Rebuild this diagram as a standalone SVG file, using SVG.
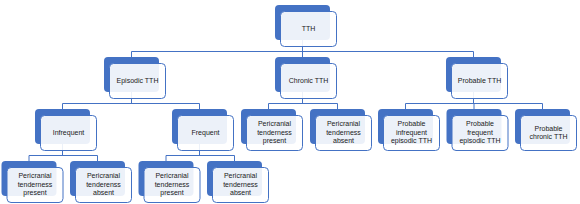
<svg xmlns="http://www.w3.org/2000/svg" width="580" height="204" viewBox="0 0 580 204">
<style>
.bg{fill:#ffffff}
.b{fill:#4472c4}
.w{fill:#ffffff;fill-opacity:0.9;stroke:#4472c4;stroke-width:1}
.c{fill:none;stroke:#4472c4;stroke-width:1}
text{font-family:"Liberation Sans",Arial,sans-serif;font-size:7px;fill:#1a1a1a;text-anchor:middle}
</style>
<rect class="bg" x="0" y="0" width="580" height="204"/>
<g id="connectors">
<path class="c" d="M302.5,40V51.5M131.5,51.5H473.5M131.5,51.5V57M302.5,51.5V57M473.5,51.5V57"/>
<path class="c" d="M131.5,92V103.5M62.5,103.5H199.5M62.5,103.5V109M199.5,103.5V109"/>
<path class="c" d="M302.5,92V103.5M268.5,103.5H337.5M268.5,103.5V109M337.5,103.5V109"/>
<path class="c" d="M473.5,92V103.5M405.5,103.5H542.5M405.5,103.5V109M474,103.5V109M542.5,103.5V109"/>
<path class="c" d="M62.5,144V155.5M29,155.5H97.5M29,155.5V161M97.5,155.5V161"/>
<path class="c" d="M199.5,144V155.5M166,155.5H234.5M166,155.5V161M234.5,155.5V161"/>
</g>
<g id="n-tth"><rect class="b" x="275" y="5" width="55" height="35" rx="4"/><rect class="w" x="280.5" y="11.5" width="56" height="35" rx="4"/><text x="308.5" y="31">TTH</text></g>
<g id="n-episodic"><rect class="b" x="104" y="57" width="55" height="35" rx="4"/><rect class="w" x="109.5" y="63.5" width="56" height="35" rx="4"/><text x="137.5" y="83">Episodic TTH</text></g>
<g id="n-chronic"><rect class="b" x="275" y="57" width="55" height="35" rx="4"/><rect class="w" x="280.5" y="63.5" width="56" height="35" rx="4"/><text x="308.5" y="83">Chronic TTH</text></g>
<g id="n-probable"><rect class="b" x="446" y="57" width="55" height="35" rx="4"/><rect class="w" x="451.5" y="63.5" width="56" height="35" rx="4"/><text x="479.5" y="83">Probable TTH</text></g>
<g id="n-infrequent"><rect class="b" x="35" y="109" width="55" height="35" rx="4"/><rect class="w" x="40.5" y="115.5" width="56" height="35" rx="4"/><text x="68.5" y="135">Infrequent</text></g>
<g id="n-frequent"><rect class="b" x="172" y="109" width="55" height="35" rx="4"/><rect class="w" x="177.5" y="115.5" width="56" height="35" rx="4"/><text x="205.5" y="135">Frequent</text></g>
<g id="n-chr-present"><rect class="b" x="241" y="109" width="55" height="35" rx="4"/><rect class="w" x="246.5" y="115.5" width="56" height="35" rx="4"/><text x="274.5" y="126">Pericranial</text><text x="274.5" y="134.5">tenderness</text><text x="274.5" y="143">present</text></g>
<g id="n-chr-absent"><rect class="b" x="310" y="109" width="55" height="35" rx="4"/><rect class="w" x="315.5" y="115.5" width="56" height="35" rx="4"/><text x="343.5" y="126">Pericranial</text><text x="343.5" y="134.5">tenderness</text><text x="343.5" y="143">absent</text></g>
<g id="n-prob-infrequent"><rect class="b" x="378" y="109" width="55" height="35" rx="4"/><rect class="w" x="383.5" y="115.5" width="56" height="35" rx="4"/><text x="411.5" y="126">Probable</text><text x="411.5" y="134.5">infrequent</text><text x="411.5" y="143">episodic TTH</text></g>
<g id="n-prob-frequent"><rect class="b" x="446.5" y="109" width="55" height="35" rx="4"/><rect class="w" x="452" y="115.5" width="56" height="35" rx="4"/><text x="480" y="126">Probable</text><text x="480" y="134.5">frequent</text><text x="480" y="143">episodic TTH</text></g>
<g id="n-prob-chronic"><rect class="b" x="515" y="109" width="55" height="35" rx="4"/><rect class="w" x="520.5" y="115.5" width="56" height="35" rx="4"/><text x="548.5" y="130.5">Probable</text><text x="548.5" y="139">chronic TTH</text></g>
<g id="n-inf-present"><rect class="b" x="1.5" y="161" width="55" height="35" rx="4"/><rect class="w" x="7" y="167.5" width="56" height="35" rx="4"/><text x="35" y="178">Pericranial</text><text x="35" y="186.5">tenderness</text><text x="35" y="195">present</text></g>
<g id="n-inf-absent"><rect class="b" x="70" y="161" width="55" height="35" rx="4"/><rect class="w" x="75.5" y="167.5" width="56" height="35" rx="4"/><text x="103.5" y="178">Pericranial</text><text x="103.5" y="186.5">tenderenss</text><text x="103.5" y="195">absent</text></g>
<g id="n-fr-present"><rect class="b" x="138.5" y="161" width="55" height="35" rx="4"/><rect class="w" x="144" y="167.5" width="56" height="35" rx="4"/><text x="172" y="178">Pericranial</text><text x="172" y="186.5">tenderness</text><text x="172" y="195">present</text></g>
<g id="n-fr-absent"><rect class="b" x="207" y="161" width="55" height="35" rx="4"/><rect class="w" x="212.5" y="167.5" width="56" height="35" rx="4"/><text x="240.5" y="178">Pericranial</text><text x="240.5" y="186.5">tenderness</text><text x="240.5" y="195">absent</text></g>
</svg>
